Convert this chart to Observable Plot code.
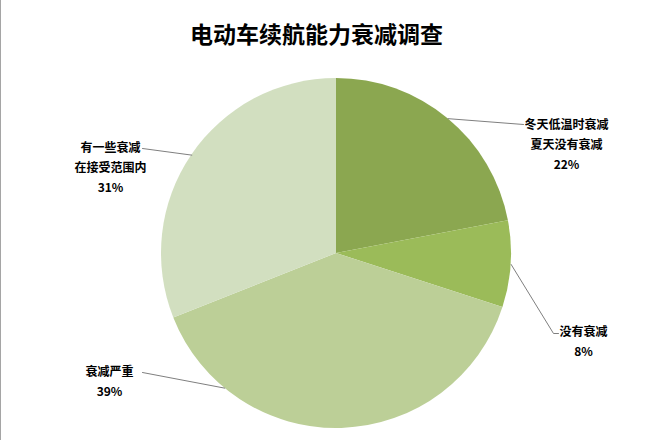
<!DOCTYPE html>
<html><head><meta charset="utf-8">
<script src="https://cdn.jsdelivr.net/npm/d3@7"></script>
<script src="https://cdn.jsdelivr.net/npm/@observablehq/plot@0.6"></script>
<style>
body{margin:0;background:#fff;}
#wrap{position:relative;width:660px;height:440px;overflow:hidden;}
#wrap::before{content:"";position:absolute;left:0;top:0;width:1px;height:440px;background:#a5a5a5;z-index:2;}
</style></head><body><div id="wrap"></div>
<script>
// ---- data ----
const title = "电动车续航能力衰减调查";
const categories = ["冬天低温时衰减\n夏天没有衰减", "没有衰减", "衰减严重", "有一些衰减\n在接受范围内"];
const values = [22, 8, 39, 31];
const colors = ["#8ba750", "#9bbb59", "#bccf97", "#d2dfc0"];

// ---- layout (pixels, relative to the pie centre) ----
const cx = 336, cy = 253, R = 175;
const labelOffset = [[230, -111], [247, 86], [-227, 126], [-226, -88]];
const leaderAngleDeg = [null, null, 219.7, null]; // null => slice mid-angle
const leaderEnd = [[[187, -129]], [[217, 80], [222, 80]], [[-194, 119]], [[-194, -105]]];

const arcs = d3.pie().sort(null).value(d => d)(values);
const slices = arcs.map((a, i) => ({
  i, cat: categories[i], value: values[i], color: colors[i],
  start: a.startAngle, end: a.endAngle, mid: (a.startAngle + a.endAngle) / 2
}));

const leaderPts = slices.flatMap(s => {
  const a = leaderAngleDeg[s.i] == null ? s.mid : leaderAngleDeg[s.i] * Math.PI / 180;
  const pts = [{k: s.i, x: cx + R * Math.sin(a), y: cy - R * Math.cos(a)}];
  for (const o of leaderEnd[s.i]) pts.push({k: s.i, x: cx + o[0], y: cy + o[1]});
  return pts;
});

function pieMark(index, scales) {
  const x0 = scales.x(cx), y0 = scales.y(cy);
  const rpx = Math.abs(scales.x(cx + R) - x0);
  const arc = d3.arc().innerRadius(0).outerRadius(rpx);
  const g = d3.create("svg:g").attr("transform", `translate(${x0},${y0})`);
  g.selectAll("path").data(slices).join("path")
    .attr("d", d => arc({startAngle: d.start, endAngle: d.end}))
    .attr("fill", d => d.color);
  return g.node();
}

const chart = Plot.plot({
  width: 660, height: 440, margin: 0,
  x: {domain: [0, 660], axis: null},
  y: {domain: [0, 440], reverse: true, axis: null},
  style: {fontFamily: "'Noto Sans CJK SC', 'Noto Sans', sans-serif", background: "#fff", overflow: "visible"},
  marks: [
    pieMark,
    Plot.line(leaderPts, {x: "x", y: "y", z: "k", stroke: "#7f7f7f", strokeWidth: 1, curve: "linear"}),
    Plot.text(slices, {
      x: d => cx + labelOffset[d.i][0], y: d => cy + labelOffset[d.i][1],
      text: d => `${d.cat}\n${d.value}%`,
      fontSize: 12, fontWeight: "bold", fill: "#000", lineHeight: 1.67, lineAnchor: "middle", textAnchor: "middle"
    }),
    Plot.text([title], {frameAnchor: "top", dx: -14, dy: 26, lineAnchor: "top",
      fontSize: 23, fontWeight: "bold", fill: "#000"})
  ]
});
document.getElementById("wrap").appendChild(chart);
</script></body></html>
